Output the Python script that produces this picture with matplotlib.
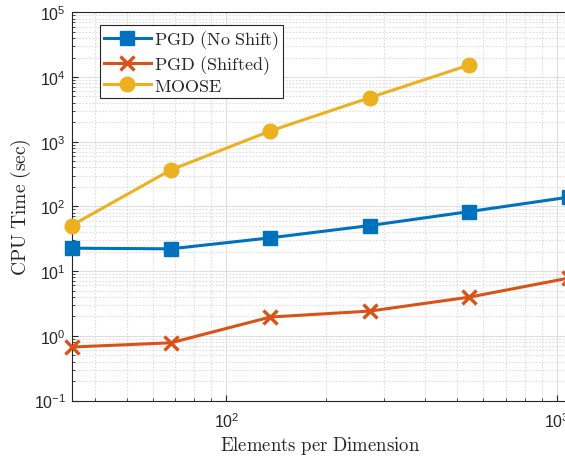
import matplotlib
matplotlib.use("Agg")
import matplotlib.pyplot as plt
from matplotlib.ticker import LogLocator, NullFormatter

# Data
elements = [34, 68, 136, 272, 544, 1088]
pgd_noshift = [22.6, 22.1, 32.7, 50.6, 83.2, 139]
pgd_shifted = [0.67, 0.78, 1.95, 2.41, 3.96, 7.8]
moose_x = [34, 68, 136, 272, 544]
moose = [50.6, 367, 1470, 4800, 15350]

labels = [r"$\mathrm{PGD\ (No\ Shift)}$", r"$\mathrm{PGD\ (Shifted)}$", r"$\mathrm{MOOSE}$"]
xlabel = r"$\mathrm{Elements\ per\ Dimension}$"
ylabel = r"$\mathrm{CPU\ Time\ (sec)}$"

plt.rcParams["font.family"] = ["Liberation Sans", "DejaVu Sans"]
plt.rcParams["mathtext.fontset"] = "cm"

W, H = 565, 460
fig = plt.figure(figsize=(W / 100, H / 100), dpi=100)
x0, x1 = 71.5, 568.8
ytop, ybot = 13.3, 401.5
ax = fig.add_axes([x0 / W, (H - ybot) / H, (x1 - x0) / W, (ybot - ytop) / H])

c_blue = "#0072BD"
c_orange = "#D95319"
c_yellow = "#EDB120"
tc = "#262626"

ax.plot(elements, pgd_noshift, "-s", color=c_blue, lw=2.2, ms=9.5,
        label=labels[0], clip_on=False, zorder=5)
ax.plot(elements, pgd_shifted, "-x", color=c_orange, lw=2.2, ms=9.5,
        mew=2.4, label=labels[1], clip_on=False, zorder=5)
ax.plot(moose_x, moose, "-o", color=c_yellow, lw=2.2, ms=10.5,
        label=labels[2], clip_on=False, zorder=5)

ax.set_xscale("log")
ax.set_yscale("log")
ax.set_xlim(elements[0], elements[-1])
ax.set_ylim(1e-1, 1e5)

ax.yaxis.set_major_locator(LogLocator(base=10, numticks=10))
ax.yaxis.set_minor_locator(LogLocator(base=10, subs=range(2, 10), numticks=20))
ax.yaxis.set_minor_formatter(NullFormatter())
ax.xaxis.set_minor_locator(LogLocator(base=10, subs=range(2, 10), numticks=20))
ax.xaxis.set_minor_formatter(NullFormatter())

ax.grid(True, which="major", color="#dedede", lw=0.8, ls="-")
ax.grid(True, which="minor", color="#dedede", lw=0.8, ls=(0, (1.5, 1.5)))
ax.set_axisbelow(True)

ax.tick_params(which="both", direction="in", colors=tc, labelsize=11.5,
               top=False, right=False)
ax.tick_params(which="major", length=4.5, width=0.8)
ax.tick_params(axis="x", which="major", pad=8)
ax.tick_params(axis="y", which="major", pad=4)
ax.tick_params(which="minor", length=2.5, width=0.6)
for s in ax.spines.values():
    s.set_color(tc)
    s.set_linewidth(0.8)

ax.set_xlabel(xlabel, fontsize=13.5, color=tc, labelpad=3)
ax.set_ylabel(ylabel, fontsize=14, color=tc, labelpad=0.5)

leg = ax.legend(loc="upper left",
                bbox_to_anchor=((100 - x0) / (x1 - x0), (ybot - 26) / (ybot - ytop)),
                borderaxespad=0, fontsize=13, handlelength=2.6,
                handletextpad=0.2, labelspacing=0.1, fancybox=False,
                framealpha=1, edgecolor=tc, borderpad=0.2)
leg.get_frame().set_linewidth(0.8)
for t in leg.get_texts():
    t.set_color(tc)

fig.savefig("out.png", dpi=100)
